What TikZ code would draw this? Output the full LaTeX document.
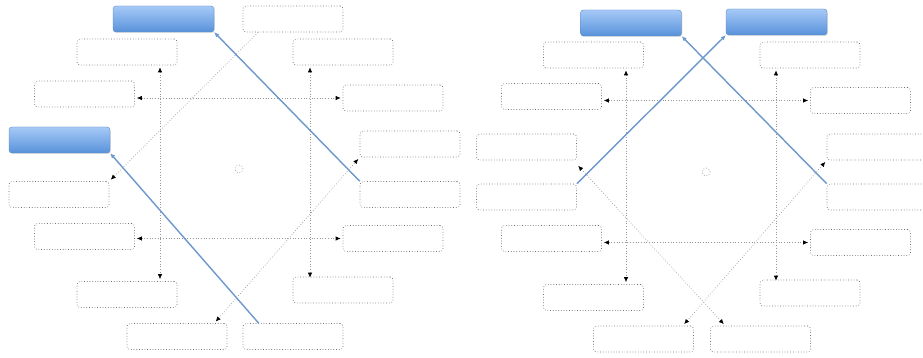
\documentclass[tikz,border=0pt]{standalone}
\usepackage{xcolor}
\definecolor{cHeadTop}{HTML}{A6C9F7}
\definecolor{cHeadBot}{HTML}{5892DA}
\definecolor{cHeadEdge}{HTML}{5A88C4}
\definecolor{cLink}{HTML}{6E98CC}
\definecolor{cGray}{HTML}{6E6E6E}
\definecolor{cLight}{HTML}{999999}
\usepackage{tikz}
\usetikzlibrary{positioning,arrows.meta,shadows}
\tikzset{
  node-blank/.style={draw=cGray,dotted,line width=.7pt,rounded corners=3pt,
    minimum width=100pt,minimum height=26pt,inner sep=0pt},
  node-head/.style={draw=cHeadEdge,rounded corners=3pt,top color=cHeadTop,
    bottom color=cHeadBot,minimum width=101pt,minimum height=26pt,inner sep=0pt,
    drop shadow={opacity=.25,shadow xshift=.8pt,shadow yshift=-1pt}},
  node-hub/.style={circle,draw=cLight,dotted,line width=.7pt,minimum size=8pt,inner sep=0pt},
  arrow-dot/.style={{Latex[length=5pt,width=4.5pt,color=black]}-{Latex[length=5pt,width=4.5pt,color=black]},
    dotted,draw=cLight,line width=.7pt,shorten <=2pt,shorten >=2pt},
  arrow-dot-one/.style={-{Latex[length=5pt,width=4.5pt,color=black]},
    dotted,draw=cLight,line width=.7pt,shorten >=2pt},
  arrow-main/.style={-{Latex[length=5pt,width=4.5pt]},draw=cLink,line width=1.4pt},
}
\begin{document}
\begin{tikzpicture}[x=1pt,y=-1pt]
  \path[use as bounding box,fill=white] (0,0) rectangle (923,358);
  % left figure
  \node[node-head] (tb) at (163.5,19) {};
  \node[node-head] (lb) at (59.5,140) {};
  \node[node-blank] (tr) at (293,19) {};
  \node[node-blank] (l2) at (127,52) {};
  \node[node-blank] (r2) at (343,52) {};
  \node[node-blank] (l3) at (84.5,94) {};
  \node[node-blank] (r3) at (393,98) {};
  \node[node-blank] (r4) at (410,144) {};
  \node[node-blank] (l5) at (59,194.5) {};
  \node[node-blank] (r5) at (410,194.5) {};
  \node[node-blank] (l6) at (84.5,236.5) {};
  \node[node-blank] (r6) at (393,238.5) {};
  \node[node-blank] (l7) at (127,294.5) {};
  \node[node-blank] (r7) at (343,290) {};
  \node[node-blank] (l8) at (177,336.5) {};
  \node[node-blank] (r8) at (293,336.5) {};
  \node[node-hub] (hl) at (239,169) {};
  \coordinate (vl) at ([xshift=33pt]l2.south);
  \coordinate (vr) at ([xshift=-33pt]r2.south);
  \draw[arrow-dot] (vl) -- (vl |- l7.north);
  \draw[arrow-dot] (vr) -- ([yshift=-3pt]vr |- r7.north);
  \draw[arrow-dot] (l3.east |- r3.west) -- (r3.west);
  \draw[arrow-dot] (l6.east |- r6.west) -- (r6.west);
  \draw[arrow-dot-one] ([xshift=-35pt]tr.south) -- (l5.north east);
  \draw[arrow-dot] ([xshift=-13pt]l8.north east) -- (r4.south west);
  \draw[arrow-main] (r5.north west) -- (tb.south east);
  \draw[arrow-main] ([xshift=16pt]r8.north west) -- (lb.south east);
  % right figure
  \node[node-head] (ba) at (631,23) {};
  \node[node-head] (bb) at (776.5,22) {};
  \node[node-blank] (L2) at (593.5,55) {};
  \node[node-blank] (R2) at (810,55) {};
  \node[node-blank] (L3) at (551.5,96.5) {};
  \node[node-blank] (R3) at (860.5,100.5) {};
  \node[node-blank] (L4) at (526.5,147) {};
  \node[node-blank] (R4) at (877,147) {};
  \node[node-blank] (L5) at (526.5,197) {};
  \node[node-blank] (R5) at (877,197) {};
  \node[node-blank] (L6) at (551.5,238.5) {};
  \node[node-blank] (R6) at (860.5,242.5) {};
  \node[node-blank] (L7) at (593.5,297.5) {};
  \node[node-blank] (R7) at (810,293) {};
  \node[node-blank] (L8) at (643.5,339) {};
  \node[node-blank] (R8) at (760.5,339) {};
  \node[node-hub] (hr) at (706,172) {};
  \coordinate (VL) at ([xshift=32.5pt]L2.south);
  \coordinate (VR) at ([xshift=-34pt]R2.south);
  \draw[arrow-dot] (VL) -- (VL |- L7.north);
  \draw[arrow-dot] (VR) -- ([yshift=-3pt]VR |- R7.north);
  \draw[arrow-dot] (L3.east |- R3.west) -- (R3.west);
  \draw[arrow-dot] (L6.east |- R6.west) -- (R6.west);
  \draw[arrow-dot] ([yshift=-4pt]L4.south east) -- ([xshift=15pt]R8.north west);
  \draw[arrow-dot] (R4.south west) -- ([xshift=-11pt]L8.north east);
  \draw[arrow-main] (L5.north east) -- (bb.south west);
  \draw[arrow-main] (R5.north west) -- (ba.south east);
\end{tikzpicture}
\end{document}
